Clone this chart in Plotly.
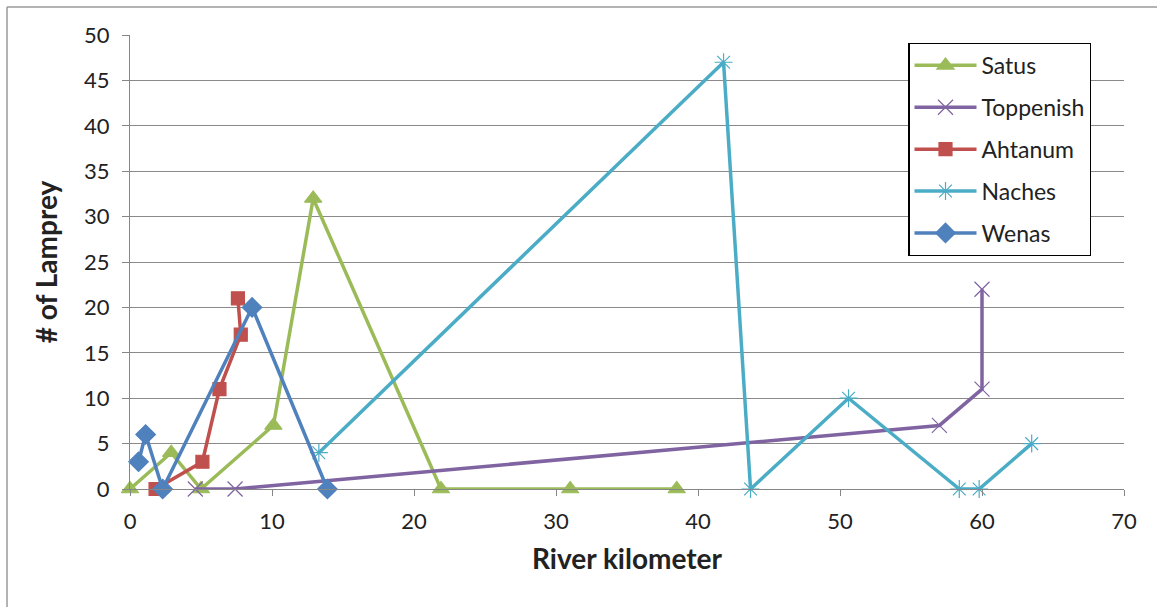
import plotly.graph_objects as go

# River kilometer (x) and lamprey counts (y) for each tributary
satus_rkm = [0.0, 2.9, 5.0, 10.1, 12.9, 21.9, 31.0, 38.5]
satus_n = [0, 4, 0, 7, 32, 0, 0, 0]

toppenish_rkm = [4.6, 7.4, 57.0, 60.0, 60.0]
toppenish_n = [0, 0, 7, 11, 22]

ahtanum_rkm = [1.8, 5.1, 6.3, 7.8, 7.6]
ahtanum_n = [0, 3, 11, 17, 21]

naches_rkm = [13.3, 41.8, 43.7, 50.6, 58.4, 59.8, 63.5]
naches_n = [4, 47, 0, 10, 0, 0, 5]

wenas_rkm = [0.6, 1.1, 2.3, 8.6, 13.9]
wenas_n = [3, 6, 0, 20, 0]

x_ticks = [0, 10, 20, 30, 40, 50, 60, 70]
y_ticks = [0, 5, 10, 15, 20, 25, 30, 35, 40, 45, 50]

FONT = "Lato, 'Open Sans', sans-serif"

series = [
    ("Satus", satus_rkm, satus_n, "#9BBB59", "triangle-up", 15),
    ("Toppenish", toppenish_rkm, toppenish_n, "#8064A2", "x-thin-open", 15),
    ("Ahtanum", ahtanum_rkm, ahtanum_n, "#C0504D", "square", 13),
    ("Naches", naches_rkm, naches_n, "#4BACC6", "asterisk-open", 15),
    ("Wenas", wenas_rkm, wenas_n, "#4F81BD", "diamond", 15),
]

fig = go.Figure()
for name, xs, ys, color, symbol, size in series:
    fig.add_trace(go.Scatter(
        x=xs, y=ys, name=name, legendgroup=name, mode="lines+markers",
        line=dict(color=color, width=3.5),
        marker=dict(symbol=symbol, size=size, color=color,
                    line=dict(color=color, width=1.2)),
        cliponaxis=False,
    ))

fig.update_layout(
    width=1157, height=607,
    margin=dict(l=130, r=33, t=35, b=118),
    paper_bgcolor="white", plot_bgcolor="white",
    font=dict(family=FONT, size=22, color="#222"),
    showlegend=True,
    legend=dict(
        x=0.783, y=0.983, xanchor="left", yanchor="top",
        bgcolor="white", bordercolor="black", borderwidth=1.2,
        font=dict(family=FONT, size=23, color="#222"),
        tracegroupgap=9, itemwidth=62, entrywidth=120,
    ),
    xaxis=dict(
        range=[0, 70], tickvals=x_ticks, showgrid=False, zeroline=False,
        showline=True, linecolor="#868686", linewidth=1.2,
        ticks="outside", ticklen=6, tickcolor="#868686",
        ticklabelstandoff=6,
        tickfont=dict(family=FONT, size=22, color="#222"),
        title=dict(text="<b>River kilometer</b>",
                   font=dict(family=FONT, size=28, color="#222"), standoff=16),
    ),
    yaxis=dict(
        range=[0, 50], tickvals=y_ticks, showgrid=True, gridcolor="#8a8a8a",
        gridwidth=1, zeroline=False,
        showline=True, linecolor="#868686", linewidth=1.2,
        ticks="outside", ticklen=7, tickcolor="#868686",
        ticklabelstandoff=8,
        tickfont=dict(family=FONT, size=22, color="#222"),
        title=dict(text="<b># of Lamprey</b>",
                   font=dict(family=FONT, size=28, color="#222"), standoff=18),
    ),
)

# Outer chart frame (left and top edges)
frame_top = (607 - 7 - 118) / 454
frame_left = -123 / 994
fig.add_shape(type="line", xref="paper", yref="paper",
              x0=frame_left, x1=frame_left, y0=-0.5, y1=frame_top,
              line=dict(color="#9a9a9a", width=1.5))
fig.add_shape(type="line", xref="paper", yref="paper",
              x0=frame_left, x1=1.1, y0=frame_top, y1=frame_top,
              line=dict(color="#9a9a9a", width=1.5))

fig.write_html("out.html")
